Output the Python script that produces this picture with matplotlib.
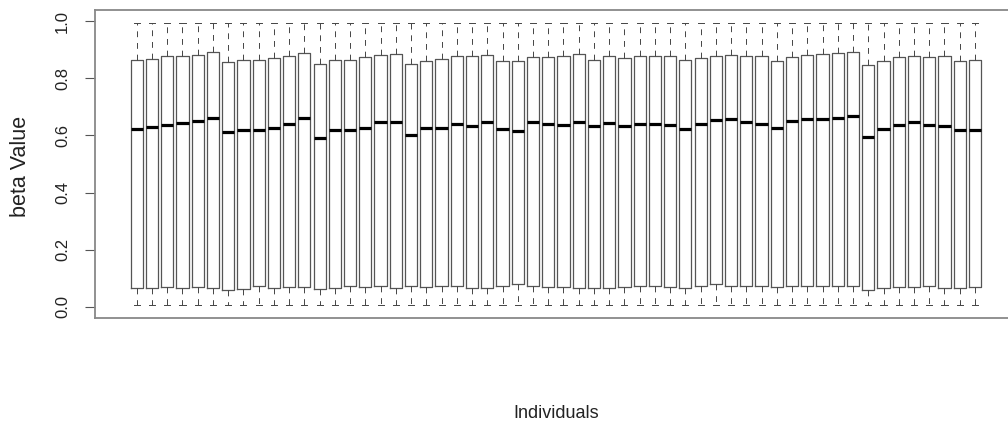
import matplotlib
matplotlib.use("Agg")
import matplotlib.pyplot as plt

# Boxplot resumido por individuo
medians = [0.621, 0.629, 0.636, 0.645, 0.650, 0.663, 0.612, 0.620, 0.620, 0.626,
           0.640, 0.662, 0.591, 0.618, 0.618, 0.627, 0.647, 0.648, 0.600, 0.625,
           0.627, 0.641, 0.635, 0.647, 0.621, 0.615, 0.647, 0.642, 0.636, 0.647,
           0.632, 0.643, 0.633, 0.640, 0.642, 0.636, 0.622, 0.639, 0.654, 0.659,
           0.649, 0.642, 0.625, 0.652, 0.657, 0.657, 0.663, 0.668, 0.593, 0.621,
           0.636, 0.646, 0.638, 0.635, 0.620, 0.618]
q3 = [0.863, 0.869, 0.877, 0.880, 0.883, 0.891, 0.856, 0.864, 0.866, 0.873,
      0.877, 0.888, 0.851, 0.863, 0.866, 0.875, 0.883, 0.886, 0.849, 0.862,
      0.869, 0.877, 0.877, 0.883, 0.862, 0.860, 0.875, 0.875, 0.879, 0.884,
      0.865, 0.877, 0.873, 0.877, 0.877, 0.880, 0.865, 0.872, 0.878, 0.881,
      0.877, 0.877, 0.860, 0.875, 0.881, 0.885, 0.888, 0.891, 0.846, 0.860,
      0.875, 0.880, 0.874, 0.878, 0.860, 0.863]
q1 = [0.064, 0.066, 0.069, 0.066, 0.069, 0.064, 0.059, 0.062, 0.073, 0.066,
      0.069, 0.069, 0.062, 0.064, 0.071, 0.069, 0.073, 0.064, 0.071, 0.069,
      0.071, 0.071, 0.066, 0.064, 0.071, 0.080, 0.071, 0.069, 0.069, 0.064,
      0.064, 0.064, 0.069, 0.071, 0.071, 0.069, 0.064, 0.071, 0.078, 0.071,
      0.071, 0.071, 0.069, 0.071, 0.071, 0.071, 0.071, 0.071, 0.058, 0.064,
      0.069, 0.069, 0.071, 0.064, 0.064, 0.069]
whisker_low = 0.005
whisker_high = 0.995
y_ticks = [0.0, 0.2, 0.4, 0.6, 0.8, 1.0]

plt.rcParams["font.family"] = ["Liberation Sans", "DejaVu Sans"]

stats = [dict(med=m, q1=a, q3=b, whislo=whisker_low, whishi=whisker_high, fliers=[])
         for m, a, b in zip(medians, q1, q3)]

fig = plt.figure(figsize=(10.08, 4.33), dpi=100)
ax = fig.add_axes([95 / 1008, 115 / 433, 921.7 / 1008, 308 / 433])

n = len(stats)
ax.bxp(stats, positions=range(1, n + 1), widths=0.8, capwidths=0.4,
       showfliers=False, patch_artist=False,
       boxprops=dict(color="#555555", linewidth=0.9),
       medianprops=dict(color="black", linewidth=2.3, solid_capstyle="butt"),
       whiskerprops=dict(color="#444444", linewidth=0.7, linestyle=(0, (6, 6))),
       capprops=dict(color="#444444", linewidth=0.7))

ax.set_xlim(-1.74, n + 2.74)
ax.set_ylim(-0.04, 1.04)
ax.set_xticks([])
ax.set_yticks(y_ticks)
ax.set_yticklabels([f"{t:.1f}" for t in y_ticks], rotation=90, va="center",
                   fontsize=12, color="#222222")
ax.tick_params(axis="y", length=7, width=0.8, color="#555555", pad=11)
for s in ax.spines.values():
    s.set_color("#888888"); s.set_linewidth(1.3)

fig.text(21 / 1008, 1 - 166 / 433, "beta Value", rotation=90, ha="center",
         va="center", fontsize=15.5, color="#222222")
fig.text(556 / 1008, 1 - 414 / 433, "Individuals", ha="center", va="center",
         fontsize=13, color="#222222")

fig.savefig("out.png", dpi=100)
